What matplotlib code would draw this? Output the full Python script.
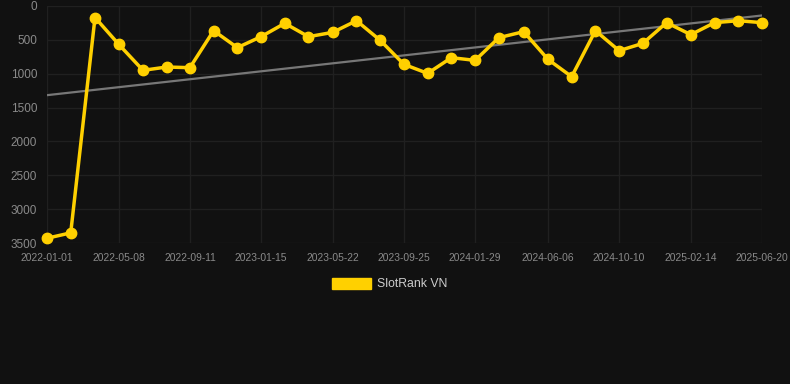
import numpy as np
import pandas as pd
import matplotlib
matplotlib.use("Agg")
import matplotlib.pyplot as plt
import matplotlib.dates as mdates

# rank values (lower = better)
dates = ["2022-01-01", "2022-02-12", "2022-03-27", "2022-05-08", "2022-06-20",
         "2022-08-01", "2022-09-11", "2022-10-23", "2022-12-04", "2023-01-15",
         "2023-02-26", "2023-04-09", "2023-05-22", "2023-07-03", "2023-08-14",
         "2023-09-25", "2023-11-06", "2023-12-18", "2024-01-29", "2024-03-11",
         "2024-04-24", "2024-06-06", "2024-07-18", "2024-08-29", "2024-10-10",
         "2024-11-21", "2025-01-02", "2025-02-14", "2025-03-28", "2025-05-09",
         "2025-06-20"]
ranks = [3430, 3350, 170, 566, 950, 901, 911, 364, 615, 453,
         256, 453, 389, 217, 507, 862, 995, 763, 803, 468,
         379, 788, 1044, 364, 660, 552, 246, 423, 246, 217, 246]
tick_labels = ["2022-01-01", "2022-05-08", "2022-09-11", "2023-01-15", "2023-05-22",
               "2023-09-25", "2024-01-29", "2024-06-06", "2024-10-10", "2025-02-14",
               "2025-06-20"]
y_ticks = [0, 500, 1000, 1500, 2000, 2500, 3000, 3500]

x = pd.to_datetime(dates)
xnum = mdates.date2num(x)

# linear trend
coef = np.polyfit(xnum, ranks, 1)
trend = np.polyval(coef, xnum)

bg = "#111111"
gold = "#FFD000"

fig = plt.figure(figsize=(7.9, 3.84), dpi=100, facecolor=bg)
ax = fig.add_axes([47/790, 1 - 243/384, (762-47)/790, (243-6)/384])
ax.set_facecolor(bg)

ax.plot(x, trend, color="#777777", linewidth=1.6, zorder=2)
ax.plot(x, ranks, color=gold, linewidth=2.5, marker="o", markersize=7.5,
        label="SlotRank VN", zorder=3, clip_on=False)

ax.set_xlim(x[0], x[-1])
ax.set_ylim(3500, 0)
ax.set_yticks(y_ticks)
ax.set_yticklabels([str(v) for v in y_ticks])
ax.set_xticks(pd.to_datetime(tick_labels))
ax.set_xticklabels(tick_labels)

ax.grid(True, color="#202020", linewidth=1.0)
for s in ax.spines.values():
    s.set_visible(False)
ax.tick_params(axis="y", length=0, pad=7, labelsize=8.5, labelcolor="#8a8a8a")
ax.tick_params(axis="x", length=0, pad=7, labelsize=7.4, labelcolor="#8a8a8a")
for lab in ax.get_yticklabels() + ax.get_xticklabels():
    lab.set_fontfamily("Liberation Sans")

h = plt.Rectangle((0, 0), 1, 1, color=gold)
leg = fig.legend([h], ["SlotRank VN"], loc="center", bbox_to_anchor=(390/790, 1 - 284/384),
                 frameon=False, handlelength=3.2, handleheight=1.0, handletextpad=0.5,
                 prop={"family": "Liberation Sans", "size": 8.8})
for t in leg.get_texts():
    t.set_color("#cccccc")

fig.savefig("out.png", dpi=100, facecolor=bg)
